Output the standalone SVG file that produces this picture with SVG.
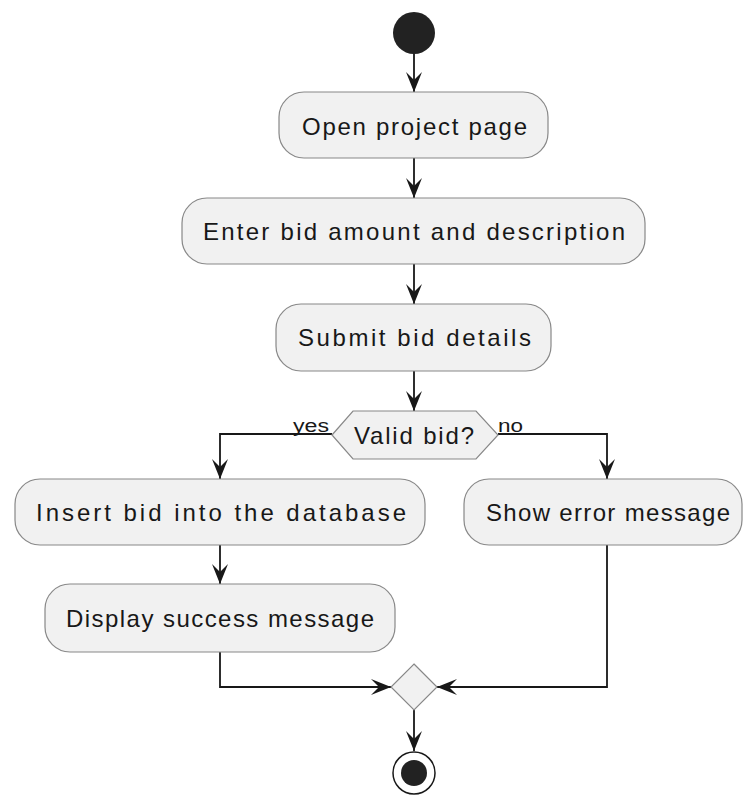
<svg xmlns="http://www.w3.org/2000/svg" width="743" height="799" viewBox="0 0 743 799">
<style>
.node rect, .node polygon { fill: #F1F1F1; stroke: #888888; stroke-width: 1.2; }
.lbl { font-family: "Liberation Sans", Arial, sans-serif; font-size: 24px; fill: #181818; text-anchor: middle; }
.elbl { font-family: "Liberation Sans", Arial, sans-serif; font-size: 18px; fill: #181818; }
.edge { fill: none; stroke: #181818; stroke-width: 1.8; marker-end: url(#arr); }
</style>
<defs>
<marker id="arr" markerUnits="userSpaceOnUse" viewBox="-21 -9 22 18" refX="0" refY="0" markerWidth="22" markerHeight="18" orient="auto">
<path d="M0,0 L-20,-8 L-12,0 L-20,8 Z" fill="#181818"/>
</marker>
</defs>
<rect width="743" height="799" fill="#FFFFFF"/>
<g id="connectors">
<path class="edge" d="M414,54 L414,92"/>
<path class="edge" d="M414,158 L414,198"/>
<path class="edge" d="M414,264 L414,304"/>
<path class="edge" d="M414,371 L414,411"/>
<path class="edge" d="M332,434 L220,434 L220,479"/>
<path class="edge" d="M498,434 L607,434 L607,479"/>
<path class="edge" d="M220,545 L220,584"/>
<path class="edge" d="M220,652 L220,687 L391,687"/>
<path class="edge" d="M607,545 L607,687 L437,687"/>
<path class="edge" d="M414,710 L414,751"/>
<text class="elbl" x="293" y="432" textLength="36" lengthAdjust="spacingAndGlyphs">yes</text>
<text class="elbl" x="498" y="432" textLength="25" lengthAdjust="spacingAndGlyphs">no</text>
</g>
<g id="start"><circle cx="414" cy="33" r="21" fill="#222222"/></g>
<g id="open" class="node">
<rect x="279" y="92" width="269" height="66" rx="25" ry="25"/>
<text class="lbl" x="414.5" y="135" textLength="225" lengthAdjust="spacing">Open project page</text>
</g>
<g id="enter" class="node">
<rect x="182" y="198" width="463" height="66" rx="25" ry="25"/>
<text class="lbl" x="414" y="240" textLength="422" lengthAdjust="spacing">Enter bid amount and description</text>
</g>
<g id="submit" class="node">
<rect x="276" y="304" width="275" height="67" rx="25" ry="25"/>
<text class="lbl" x="414.5" y="346" textLength="233" lengthAdjust="spacing">Submit bid details</text>
</g>
<g id="valid" class="node">
<polygon points="332,435 353,411 476,411 498,435 476,459 353,459"/>
<text class="lbl" x="414" y="444" textLength="120" lengthAdjust="spacing">Valid bid?</text>
</g>
<g id="insert" class="node">
<rect x="15" y="479" width="410" height="66" rx="25" ry="25"/>
<text class="lbl" x="221" y="521" textLength="370" lengthAdjust="spacing">Insert bid into the database</text>
</g>
<g id="error" class="node">
<rect x="464" y="479" width="278" height="66" rx="25" ry="25"/>
<text class="lbl" x="608" y="521" textLength="244" lengthAdjust="spacing">Show error message</text>
</g>
<g id="success" class="node">
<rect x="45" y="584" width="350" height="68" rx="25" ry="25"/>
<text class="lbl" x="220" y="627" textLength="308" lengthAdjust="spacing">Display success message</text>
</g>
<g id="merge" class="node">
<polygon points="414,664 437,687 414,710 391,687"/>
</g>
<g id="end">
<circle cx="414" cy="773" r="21" fill="#FFFFFF" stroke="#181818" stroke-width="1.5"/>
<circle cx="414" cy="773" r="13" fill="#222222"/>
</g>
</svg>
